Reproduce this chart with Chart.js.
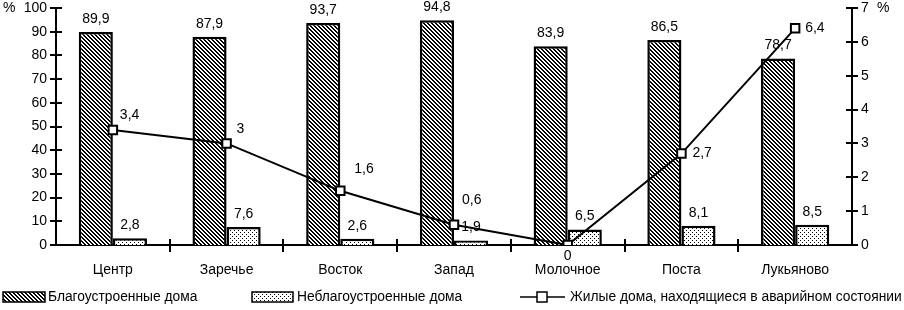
<!DOCTYPE html>
<html>
<head>
<meta charset="utf-8">
<script src="https://cdn.jsdelivr.net/npm/chart.js@4/dist/chart.umd.min.js"></script>
<style>
  html, body { margin: 0; padding: 0; background: #fff; }
  #wrap { width: 904px; height: 310px; }
</style>
</head>
<body>
<div id="wrap"><canvas id="chart_housing"></canvas></div>
<script>
var districts = ['Центр', 'Заречье', 'Восток', 'Запад', 'Молочное', 'Поста', 'Лукьяново'];
var wellEquipped = [89.9, 87.9, 93.7, 94.8, 83.9, 86.5, 78.7];
var poorlyEquipped = [2.8, 7.6, 2.6, 1.9, 6.5, 8.1, 8.5];
var emergency = [3.4, 3, 1.6, 0.6, 0, 2.7, 6.4];

var seriesNames = ['Благоустроенные дома', 'Неблагоустроенные дома', 'Жилые дома, находящиеся в аварийном состоянии'];

// where each line label sits relative to its point
var lineLabelOffsets = [[7, -15], [10, -14], [14, -22], [8, -25], [0, 11], [11, 0], [10, 0]];

var FAMILY = '"Liberation Sans", Arial, sans-serif';
var FONT = '14px ' + FAMILY;

function makeHatch() {
    var c = document.createElement('canvas');
    c.width = 4; c.height = 4;
    var g = c.getContext('2d');
    g.fillStyle = '#fff';
    g.fillRect(0, 0, 4, 4);
    g.fillStyle = '#000';
    for (var i = 0; i < 4; i++) {
        g.fillRect(i, i, 1, 1);
        g.fillRect((i + 1) % 4, i, 1, 1);
    }
    return g.createPattern(c, 'repeat');
}
function makeDots() {
    var c = document.createElement('canvas');
    c.width = 4; c.height = 4;
    var g = c.getContext('2d');
    g.fillStyle = '#fff';
    g.fillRect(0, 0, 4, 4);
    g.fillStyle = '#000';
    g.fillRect(0, 0, 1, 1);
    g.fillRect(2, 2, 1, 1);
    return g.createPattern(c, 'repeat');
}
var hatch = makeHatch();
var dots = makeDots();

function fmt(v) { return String(v).replace('.', ','); }

var decorPlugin = {
    id: 'decor',
    afterDatasetsDraw: function(chart) {
        var ctx = chart.ctx;
        ctx.save();
        ctx.font = FONT;
        ctx.fillStyle = '#000';
        // bar labels
        [1, 2].forEach(function(di) {
            var meta = chart.getDatasetMeta(di);
            meta.data.forEach(function(el, i) {
                ctx.textAlign = 'center';
                ctx.textBaseline = 'bottom';
                ctx.fillText(fmt(chart.data.datasets[di].data[i]), el.x, el.y - 6);
            });
        });
        // line labels
        var lm = chart.getDatasetMeta(0);
        lm.data.forEach(function(el, i) {
            var off = lineLabelOffsets[i];
            ctx.textAlign = off[0] === 0 ? 'center' : 'left';
            ctx.textBaseline = 'middle';
            ctx.fillText(fmt(emergency[i]), el.x + off[0], el.y + off[1]);
        });
        ctx.restore();
    },
    afterDraw: function(chart) {
        var ctx = chart.ctx;
        var a = chart.chartArea;
        var x = chart.scales.x, y = chart.scales.y, y1 = chart.scales.y1;
        ctx.save();
        ctx.strokeStyle = '#000';
        ctx.lineWidth = 2;
        ctx.beginPath();
        y.ticks.forEach(function(t) {
            var p = Math.round(y.getPixelForValue(t.value));
            ctx.moveTo(a.left - 6, p); ctx.lineTo(a.left + 6, p);
        });
        y1.ticks.forEach(function(t) {
            var p = Math.round(y1.getPixelForValue(t.value));
            ctx.moveTo(a.right - 6, p); ctx.lineTo(a.right + 6, p);
        });
        for (var i = 1; i < districts.length; i++) {
            var px = Math.round((x.getPixelForValue(i - 1) + x.getPixelForValue(i)) / 2);
            ctx.moveTo(px, a.bottom - 6); ctx.lineTo(px, a.bottom + 7);
        }
        ctx.stroke();

        ctx.font = FONT;
        ctx.fillStyle = '#000';
        ctx.textBaseline = 'middle';
        ctx.textAlign = 'left';
        ctx.fillText('%', 3, a.top);
        ctx.fillText('%', a.right + 25, a.top);

        // legend
        var ly = 297;
        ctx.lineWidth = 1.5;
        ctx.fillStyle = hatch;
        ctx.fillRect(3, ly - 5, 42, 10);
        ctx.strokeRect(3, ly - 5, 42, 10);
        ctx.fillStyle = dots;
        ctx.fillRect(252, ly - 5, 41, 10);
        ctx.strokeRect(252, ly - 5, 41, 10);
        ctx.beginPath();
        ctx.moveTo(520, ly); ctx.lineTo(565, ly);
        ctx.stroke();
        ctx.fillStyle = '#fff';
        ctx.fillRect(537, ly - 5, 10, 10);
        ctx.strokeRect(537, ly - 5, 10, 10);
        ctx.fillStyle = '#000';
        ctx.font = '13.8px ' + FAMILY;
        ctx.fillText(seriesNames[0], 48, ly);
        ctx.fillText(seriesNames[1], 297, ly);
        ctx.fillText(seriesNames[2], 570, ly);
        ctx.restore();
    }
};

var tickFont = { family: FAMILY, size: 14 };
var noGrid = { display: false, drawTicks: false, tickLength: 0 };

var chart_housing = new Chart(document.getElementById('chart_housing'), {
    type: 'bar',
    data: {
        labels: districts,
        datasets: [
            {
                type: 'line',
                label: seriesNames[2],
                data: emergency,
                yAxisID: 'y1',
                order: 0,
                borderColor: '#000',
                borderWidth: 2,
                pointStyle: 'rect',
                pointRadius: 6,
                pointBorderWidth: 2,
                pointBackgroundColor: '#fff',
                pointBorderColor: '#000',
                tension: 0
            },
            {
                label: seriesNames[0],
                data: wellEquipped,
                yAxisID: 'y',
                order: 1,
                backgroundColor: hatch,
                borderColor: '#000',
                borderWidth: 2.5,
                categoryPercentage: 0.6,
                barPercentage: 1.0
            },
            {
                label: seriesNames[1],
                data: poorlyEquipped,
                yAxisID: 'y',
                order: 1,
                backgroundColor: dots,
                borderColor: '#000',
                borderWidth: 2.5,
                categoryPercentage: 0.6,
                barPercentage: 1.0
            }
        ]
    },
    options: {
        animation: false,
        responsive: true,
        maintainAspectRatio: false,
        layout: { padding: { top: 8, left: 0, right: 0, bottom: 0 } },
        plugins: {
            legend: { display: false },
            tooltip: { enabled: false }
        },
        scales: {
            x: {
                grid: noGrid,
                border: { display: true, color: '#000', width: 2 },
                ticks: { color: '#000', font: tickFont, padding: 17, maxRotation: 0 },
                afterFit: function(s) { s.height = 65; s.paddingLeft = 0; s.paddingRight = 0; }
            },
            y: {
                position: 'left',
                min: 0, max: 100,
                grid: noGrid,
                border: { display: true, color: '#000', width: 2 },
                ticks: { stepSize: 10, color: '#000', padding: 9, font: tickFont },
                afterFit: function(s) { s.width = 56; s.paddingTop = 0; s.paddingBottom = 0; }
            },
            y1: {
                position: 'right',
                min: 0, max: 7,
                grid: noGrid,
                border: { display: true, color: '#000', width: 2 },
                ticks: { stepSize: 1, color: '#000', padding: 9, font: tickFont },
                afterFit: function(s) { s.width = 52; s.paddingTop = 0; s.paddingBottom = 0; }
            }
        }
    },
    plugins: [decorPlugin]
});
</script>
</body>
</html>
